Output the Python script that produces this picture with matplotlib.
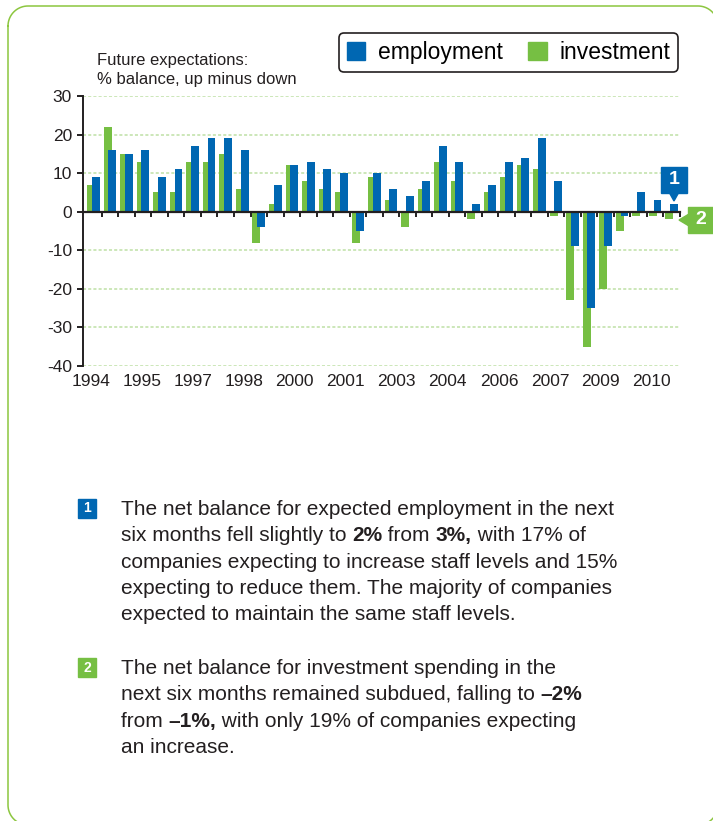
import numpy as np
import matplotlib
matplotlib.use("Agg")
import matplotlib.pyplot as plt
from matplotlib.patches import Patch, Rectangle, Polygon
from matplotlib.ticker import MultipleLocator, FixedLocator, NullFormatter

plt.rcParams['font.family'] = ['Liberation Sans', 'DejaVu Sans']
plt.rcParams['axes.unicode_minus'] = False

# half-yearly survey balances, oldest first
employment = [9, 16, 15, 16, 9, 11, 17, 19, 19, 16, -4, 7, 12, 13, 11, 10, -5, 10,
              6, 4, 8, 17, 13, 2, 7, 13, 14, 19, 8, -9, -25, -9, -1, 5, 3, 2]
investment = [7, 22, 15, 13, 5, 5, 13, 13, 15, 6, -8, 2, 12, 8, 6, 5, -8, 9,
              3, -4, 6, 13, 8, -2, 5, 9, 12, 11, -1, -23, -35, -20, -5, -1, -1, -2]
year_labels = ['1994', '1995', '1997', '1998', '2000', '2001',
               '2003', '2004', '2006', '2007', '2009', '2010']

para1 = [
    [("The net balance for expected employment in the next", 'normal')],
    [("six months fell slightly to ", 'normal'), ("2%", 'bold'), (" from ", 'normal'),
     ("3%,", 'bold'), (" with 17% of", 'normal')],
    [("companies expecting to increase staff levels and 15%", 'normal')],
    [("expecting to reduce them. The majority of companies", 'normal')],
    [("expected to maintain the same staff levels.", 'normal')],
]
para2 = [
    [("The net balance for investment spending in the", 'normal')],
    [("next six months remained subdued, falling to ", 'normal'), ("\u20132%", 'bold')],
    [("from ", 'normal'), ("\u20131%,", 'bold'), (" with only 19% of companies expecting", 'normal')],
    [("an increase.", 'normal')],
]

BLUE = '#0067b2'
GREEN = '#76bf43'
DARK = '#231f20'
GRID = '#bfe0a6'
W, H = 713, 821

fig = plt.figure(figsize=(W / 100, H / 100), dpi=100)
ax = fig.add_axes([83 / W, 1 - 366 / H, (680 - 83) / W, (366 - 96) / H])

x = np.arange(len(employment))
ax.bar(x - 0.14, investment, width=0.48, color=GREEN, zorder=2)
ax.bar(x + 0.14, employment, width=0.48, color=BLUE, zorder=3)

ax.set_xlim(-0.64, 35.5)
ax.set_ylim(-40, 30)
ax.yaxis.set_major_locator(MultipleLocator(10))
ax.yaxis.grid(True, color=GRID, linestyle=(0, (2.0, 1.4)), linewidth=1.1, zorder=1)
ax.set_axisbelow(True)

for s in ['top', 'right']:
    ax.spines[s].set_visible(False)
ax.spines['left'].set_color(DARK)
ax.spines['left'].set_linewidth(1.4)
ax.spines['bottom'].set_position(('data', 0))
ax.spines['bottom'].set_color(DARK)
ax.spines['bottom'].set_linewidth(1.6)
ax.spines['bottom'].set_zorder(4)

ax.tick_params(axis='y', direction='out', length=4, width=1.4, color=DARK,
               labelsize=12.5, labelcolor=DARK, pad=4)
ax.xaxis.set_major_locator(FixedLocator([]))
ax.xaxis.set_minor_locator(FixedLocator(x + 0.5))
ax.xaxis.set_minor_formatter(NullFormatter())
ax.tick_params(axis='x', which='minor', direction='out', length=3.5, width=1.4, color=DARK)

sec = ax.secondary_xaxis('bottom')
sec.spines['bottom'].set_visible(False)
sec.set_xticks(np.linspace(-0.17, 33.8, len(year_labels)))
sec.set_xticklabels(year_labels)
sec.tick_params(length=0, labelsize=12.5, labelcolor=DARK, pad=6)

# overlay in pixel coordinates for the panel decorations
ov = fig.add_axes([0, 0, 1, 1], zorder=5)
ov.set_xlim(0, W)
ov.set_ylim(H, 0)
ov.axis('off')
ov.patch.set_visible(False)

# rounded green panel border (extends slightly past the right and bottom edges)
x0, y0, x1, y1, r = 8, 6, 718, 825, 20
t = np.linspace(0, np.pi / 2, 20)
bx = np.concatenate([x0 + r - r * np.cos(t), x1 - r + r * np.sin(t),
                     x1 - r + r * np.cos(t), x0 + r - r * np.sin(t), [x0]])
by = np.concatenate([y0 + r - r * np.sin(t), y0 + r - r * np.cos(t),
                     y1 - r + r * np.sin(t), y1 - r + r * np.cos(t), [y0 + r]])
ov.plot(bx, by, color='#8cc63f', lw=1.1)

ov.text(97, 65, "Future expectations:", fontsize=12, color=DARK, va='baseline')
ov.text(97, 84, "% balance, up minus down", fontsize=12, color=DARK, va='baseline')

handles = [Patch(color=BLUE, label='employment'), Patch(color=GREEN, label='investment')]
fig.legend(handles=handles, ncol=2, loc='upper right', bbox_to_anchor=(678 / W, 1 - 33 / H),
           fontsize=16.5, frameon=True, fancybox=True, edgecolor=DARK, framealpha=1,
           handlelength=0.8, handleheight=0.8, handletextpad=0.55, columnspacing=1.1,
           borderpad=0.35, borderaxespad=0)
fig.legends[0].get_frame().set_linewidth(1.2)

# callout markers on the chart
ov.add_patch(Rectangle((661, 167), 26, 26, color=BLUE))
ov.add_patch(Polygon([(669, 192), (679, 192), (674, 201)], color=BLUE))
ov.text(674, 180, "1", color='white', fontsize=14, fontweight='bold', ha='center', va='center')
ov.add_patch(Rectangle((688, 207), 27, 26, color=GREEN))
ov.add_patch(Polygon([(689, 214), (689, 226), (679, 220)], color=GREEN))
ov.text(701, 220, "2", color='white', fontsize=14, fontweight='bold', ha='center', va='center')


def rich_line(x0, y0, parts, size=15):
    t = ov.text(x0, y0, parts[0][0], fontsize=size, fontweight=parts[0][1],
                color=DARK, va='baseline')
    for s, w in parts[1:]:
        t = ov.annotate(s, xy=(1, 0), xycoords=t, va='bottom', fontsize=size,
                        fontweight=w, color=DARK)


def paragraph(num, color, top, lines):
    ov.add_patch(Rectangle((78, top - 16), 18, 19, color=color))
    ov.text(87, top - 6.5, num, color='white', fontsize=10, fontweight='bold',
            ha='center', va='center')
    for i, parts in enumerate(lines):
        rich_line(121, top + i * 26.3, parts)


paragraph("1", BLUE, 515, para1)
paragraph("2", GREEN, 674, para2)

fig.savefig("out.png", dpi=100)
